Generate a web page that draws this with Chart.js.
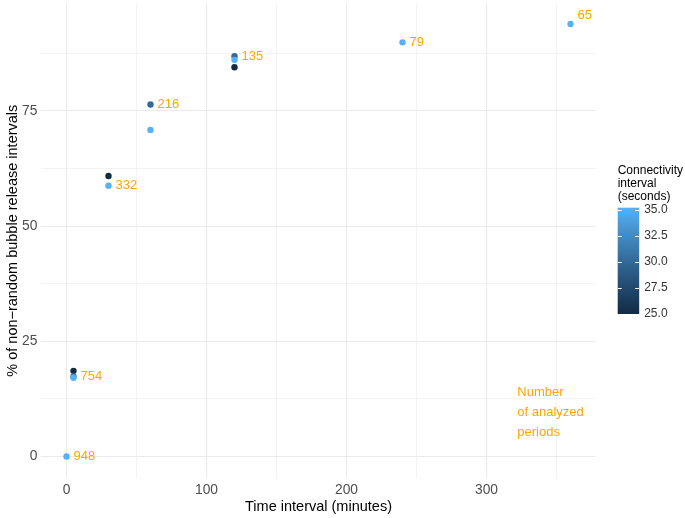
<!DOCTYPE html>
<html>
<head>
<meta charset="utf-8">
<script src="https://cdn.jsdelivr.net/npm/chart.js@4.4.1/dist/chart.umd.min.js"></script>
<style>
  html, body { margin: 0; padding: 0; background: #ffffff; }
  canvas { display: block; }
</style>
</head>
<body>
<canvas id="c" width="685" height="518"></canvas>
<script>
// ---- data ----
const timeIntervals = [0, 5, 30, 60, 120, 240, 360];            // minutes
const pctConn25 = [null, 18.6, 60.9, null, 84.5, null, null];    // connectivity 25 s
const pctConn30 = [null, 17.4, null, 76.4, 86.9, null, null];    // connectivity 30 s
const pctConn35 = [0, 17.1, 58.8, 70.9, 86.1, 89.9, 93.9];       // connectivity 35 s
const nPeriods = [948, 754, 332, 216, 135, 79, 65];              // number of analyzed periods
const xTicks = [0, 50, 100, 150, 200, 250, 300, 350];
const yTicks = [0, 12.5, 25, 37.5, 50, 62.5, 75, 87.5];
const legendTicks = [25, 27.5, 30, 32.5, 35];
const legendTitle = ['Connectivity', 'interval', '(seconds)'];
const noteLines = ['Number', 'of analyzed', 'periods'];

const FONT = "'Liberation Sans', Arial, Helvetica, sans-serif";
const LOW = '#132B43', MID = '#336A98', HIGH = '#56B1F7';

function pts(ys) {
  return timeIntervals.map((t, i) => ({ x: t, y: ys[i] })).filter(p => p.y !== null);
}

const labelPlugin = {
  id: 'countLabels',
  afterDatasetsDraw(chart, args, opts) {
    const ctx = chart.ctx, xs = chart.scales.x, ys = chart.scales.y;
    ctx.save();
    ctx.font = '13px ' + FONT;
    ctx.fillStyle = '#FFA500';
    ctx.textAlign = 'left';
    ctx.textBaseline = 'middle';
    timeIntervals.forEach((t, i) => {
      const yv = pctConn30[i] !== null ? pctConn30[i] : pctConn35[i];
      const px = xs.getPixelForValue(t) + opts.dx;
      const py = ys.getPixelForValue(yv) + (opts.dy[i] || 0);
      ctx.fillText(String(nPeriods[i]), px, py);
    });
    const nx = xs.getPixelForValue(opts.noteX);
    const ny = ys.getPixelForValue(opts.noteY);
    noteLines.forEach((s, k) => ctx.fillText(s, nx, ny + (k - 1) * opts.noteLH));
    ctx.restore();
  }
};

const colorbarPlugin = {
  id: 'colorbar',
  afterDraw(chart, args, o) {
    const ctx = chart.ctx;
    ctx.save();
    ctx.font = '12px ' + FONT;
    ctx.fillStyle = '#000000';
    ctx.textAlign = 'left';
    ctx.textBaseline = 'middle';
    legendTitle.forEach((s, k) => ctx.fillText(s, o.x, o.titleY + k * o.titleLH));
    const g = ctx.createLinearGradient(0, o.y1, 0, o.y0);
    g.addColorStop(0, LOW);
    g.addColorStop(0.25, '#22496E');
    g.addColorStop(0.5, MID);
    g.addColorStop(0.75, '#448DC6');
    g.addColorStop(1, HIGH);
    ctx.fillStyle = g;
    ctx.fillRect(o.x, o.y0, o.w, o.y1 - o.y0);
    const vy = v => o.v25 - (v - 25) / 10 * (o.v25 - o.v35);
    ctx.strokeStyle = '#ffffff';
    ctx.lineWidth = 1;
    ctx.font = '12px ' + FONT;
    ctx.fillStyle = '#333333';
    legendTicks.forEach(v => {
      const y = Math.round(vy(v)) + 0.5;
      ctx.beginPath();
      ctx.moveTo(o.x, y); ctx.lineTo(o.x + 4, y);
      ctx.moveTo(o.x + o.w - 4, y); ctx.lineTo(o.x + o.w, y);
      ctx.stroke();
      ctx.fillText(v.toFixed(1), o.x + o.w + 5, vy(v));
    });
    ctx.restore();
  }
};

function ds(label, ys, color, order) {
  return {
    label, data: pts(ys), order,
    backgroundColor: color, borderColor: color,
    pointBackgroundColor: color, pointBorderColor: color,
    pointRadius: 3.2, pointHoverRadius: 3.2,
    pointBorderWidth: 0, borderWidth: 0
  };
}

new Chart(document.getElementById('c'), {
  type: 'scatter',
  data: {
    datasets: [
      ds('25', pctConn25, LOW, 3),
      ds('30', pctConn30, MID, 2),
      ds('35', pctConn35, HIGH, 1)
    ]
  },
  options: {
    responsive: false,
    animation: false,
    devicePixelRatio: 1,
    layout: { padding: { top: 1.9, right: 89.3, left: 0, bottom: 0 } },
    plugins: {
      legend: { display: false },
      tooltip: { enabled: false },
      countLabels: { dx: 7, dy: [0, 0, 0, 0, 0, 0, -9], noteX: 322, noteY: 9.6, noteLH: 20 },
      colorbar: { x: 617.7, w: 21.5, y0: 207.7, y1: 314, v25: 313.5, v35: 209.5, titleY: 170.7, titleLH: 13 }
    },
    scales: {
      x: {
        type: 'linear',
        min: -18, max: 378,
        afterBuildTicks: s => { s.ticks = xTicks.map(v => ({ value: v })); },
        afterFit: s => { s.height = 39.8; s.paddingLeft = 0; s.paddingRight = 0; },
        border: { display: false },
        grid: {
          drawTicks: false,
          color: '#EBEBEB',
          lineWidth: c => (c.tick && c.tick.value % 100 === 0) ? 1.1 : 0.6
        },
        ticks: {
          autoSkip: false, maxRotation: 0, padding: 4,
          color: '#4D4D4D',
          font: { family: FONT, size: 13.8 },
          callback: v => (v % 100 === 0 ? String(v) : '')
        },
        title: {
          display: true, text: 'Time interval (minutes)',
          color: '#000000',
          font: { family: FONT, size: 14.5 },
          padding: { top: 0, bottom: 2 }
        }
      },
      y: {
        type: 'linear',
        min: -4.7, max: 98.4,
        afterBuildTicks: s => { s.ticks = yTicks.map(v => ({ value: v })); },
        afterFit: s => { s.width = 41.3; s.paddingTop = 0; s.paddingBottom = 0; },
        border: { display: false },
        grid: {
          drawTicks: false,
          color: '#EBEBEB',
          lineWidth: c => (c.tick && c.tick.value % 25 === 0) ? 1.1 : 0.6
        },
        ticks: {
          autoSkip: false, padding: 4,
          color: '#4D4D4D',
          font: { family: FONT, size: 13.8 },
          callback: v => (v % 25 === 0 ? String(v) : '')
        },
        title: {
          display: true, text: '% of non\u2212random bubble release intervals',
          color: '#000000',
          font: { family: FONT, size: 14.5 },
          padding: { top: 4, bottom: 0 }
        }
      }
    }
  },
  plugins: [labelPlugin, colorbarPlugin]
});
</script>
</body>
</html>
